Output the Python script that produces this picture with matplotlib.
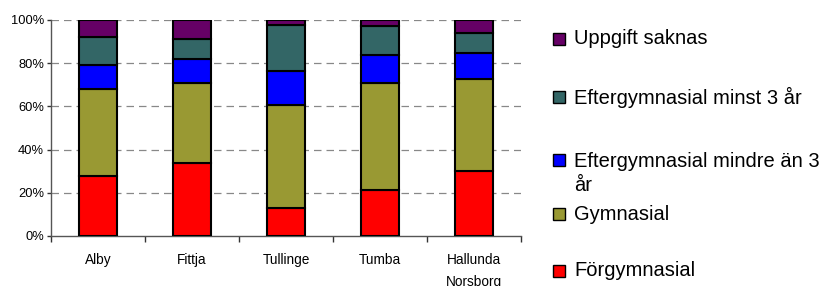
#!/usr/bin/env python3
import matplotlib
matplotlib.use("Agg")
import matplotlib.pyplot as plt
from matplotlib.patches import Rectangle
import numpy as np

plt.rcParams["font.family"] = ["Liberation Sans", "DejaVu Sans"]

# stadsdelar och andel per utbildningsnivå (procent)
omraden = ["Alby", "Fittja", "Tullinge", "Tumba", "Hallunda\nNorsborg"]
forgymnasial = [27.8, 33.8, 12.8, 21.2, 30.2]
gymnasial = [40.3, 36.9, 47.8, 49.6, 42.6]
eftergym_mindre = [10.9, 11.2, 15.9, 13.1, 12.1]
eftergym_minst = [13.1, 9.4, 21.2, 13.2, 9.2]
uppgift_saknas = [7.9, 8.7, 2.3, 2.9, 5.9]

serier = [
    ("Förgymnasial", forgymnasial, "#ff0000"),
    ("Gymnasial", gymnasial, "#999933"),
    ("Eftergymnasial mindre än 3\når", eftergym_mindre, "#0000ff"),
    ("Eftergymnasial minst 3 år", eftergym_minst, "#336666"),
    ("Uppgift saknas", uppgift_saknas, "#660066"),
]

fig = plt.figure(figsize=(8.35, 2.86), dpi=100)
ax = fig.add_axes([51 / 835, 1 - 236 / 286, 470 / 835, 216 / 286])

x = np.arange(len(omraden))
bottom = np.zeros(len(omraden))
for namn, varden, farg in serier:
    ax.bar(x, varden, width=0.4, bottom=bottom, color=farg,
           edgecolor="black", linewidth=1.5, zorder=3)
    bottom += np.array(varden)

ax.set_xlim(-0.5, len(omraden) - 0.5)
ax.set_ylim(0, 100)
ax.set_yticks(range(0, 101, 20))
ax.set_yticklabels([f"{v}%" for v in range(0, 101, 20)], fontsize=9.3)
ax.set_xticks(x)
ax.set_xticklabels(omraden, fontsize=9.8, linespacing=1.75, va="top")
ax.set_xticks(np.arange(-0.5, len(omraden)), minor=True)
ax.tick_params(axis="x", which="major", length=0, pad=12)
ax.tick_params(axis="x", which="minor", length=4, width=1.0,
               direction="out", color="#333333")
ax.tick_params(axis="y", length=3, width=1.0, direction="out",
               color="#333333", pad=2)

for y in range(20, 101, 20):
    ax.axhline(y, color="#888888", linestyle=(0, (6, 4)), linewidth=0.9,
               zorder=1)

for side in ("top", "right"):
    ax.spines[side].set_visible(False)
for side in ("left", "bottom"):
    ax.spines[side].set_color("#555555")
    ax.spines[side].set_linewidth(1.0)

# legend, drawn by hand to keep the original spacing
legend_y = [39, 97, 160, 214, 271]
for (namn, varden, farg), ly in zip(reversed(serier), legend_y):
    fig.add_artist(Rectangle((553 / 835, 1 - (ly + 6) / 286), 12 / 835,
                             12 / 286, transform=fig.transFigure,
                             facecolor=farg, edgecolor="black",
                             linewidth=1.0))
    if "\n" in namn:
        fig.text(574 / 835, 1 - (ly - 8) / 286, namn, fontsize=14.5,
                 va="top", linespacing=1.35)
    else:
        fig.text(574 / 835, 1 - ly / 286, namn, fontsize=14.5,
                 va="center")

fig.savefig("out.png", dpi=100)
